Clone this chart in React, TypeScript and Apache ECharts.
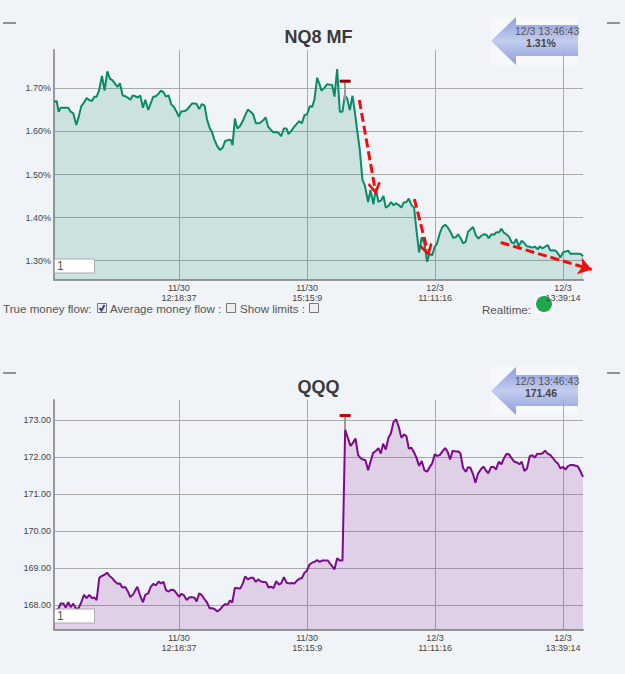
import React, { useEffect, useRef } from "react";
import * as echarts from "echarts";

const FONT = '"Liberation Sans", Arial, sans-serif';

const xTickValues = [375, 760, 1144, 1528];
const xTickLabels = ["11/30\n12:18:37", "11/30\n15:15:9", "12/3\n11:11:16", "12/3\n13:39:14"];
const nqTicks = [1.3, 1.4, 1.5, 1.6, 1.7];
const qqqTicks = [168, 169, 170, 171, 172, 173];

const nqTime = [0,8,14,20,28,35,43,50,58,67,74,82,90,98,106,114,121,128,135,144,152,160,168,176,184,191,198,206,214,222,230,236,244,252,259,267,274,283,290,298,306,314,321,329,336,344,352,360,368,375,382,390,398,406,414,422,428,436,444,452,460,468,474,482,490,498,506,514,522,530,536,543,550,558,566,574,582,590,598,606,614,622,628,635,643,650,658,666,674,682,690,698,704,713,721,728,736,744,752,760,768,775,782,790,798,803,812,820,828,835,842,850,858,866,873,880,888,896,903,910,918,926,933,943,950,959,966,974,982,989,996,1004,1012,1019,1027,1035,1043,1050,1058,1065,1073,1081,1088,1096,1104,1112,1120,1127,1135,1143,1150,1158,1166,1174,1182,1190,1198,1206,1213,1220,1228,1236,1243,1250,1258,1266,1274,1282,1290,1298,1305,1313,1321,1328,1335,1343,1350,1358,1366,1374,1381,1388,1395,1404,1412,1420,1428,1436,1444,1452,1458,1466,1474,1482,1490,1498,1506,1514,1520,1528,1536,1543,1550,1558,1566,1574,1582,1588];
const nqValues = [1.669,1.671,1.646,1.655,1.655,1.655,1.655,1.646,1.642,1.615,1.634,1.659,1.667,1.678,1.673,1.671,1.681,1.681,1.695,1.729,1.695,1.74,1.723,1.719,1.71,1.704,1.712,1.684,1.682,1.678,1.674,1.684,1.682,1.679,1.684,1.655,1.674,1.65,1.665,1.681,1.682,1.688,1.695,1.691,1.681,1.684,1.663,1.657,1.646,1.634,1.647,1.647,1.65,1.657,1.665,1.665,1.664,1.652,1.664,1.66,1.626,1.607,1.599,1.58,1.566,1.557,1.562,1.578,1.58,1.581,1.568,1.63,1.607,1.612,1.623,1.638,1.651,1.646,1.64,1.619,1.619,1.622,1.626,1.633,1.611,1.605,1.598,1.599,1.597,1.589,1.607,1.607,1.594,1.602,1.611,1.617,1.624,1.619,1.638,1.64,1.659,1.657,1.675,1.725,1.708,1.695,1.702,1.71,1.709,1.708,1.681,1.745,1.646,1.646,1.684,1.677,1.65,1.683,1.646,1.603,1.557,1.487,1.475,1.436,1.464,1.431,1.467,1.436,1.44,1.45,1.423,1.427,1.436,1.429,1.433,1.429,1.423,1.435,1.436,1.444,1.429,1.423,1.371,1.319,1.354,1.34,1.297,1.316,1.312,1.332,1.34,1.363,1.378,1.383,1.377,1.367,1.353,1.354,1.361,1.353,1.34,1.344,1.367,1.372,1.378,1.359,1.351,1.357,1.361,1.36,1.352,1.361,1.36,1.366,1.365,1.374,1.365,1.361,1.355,1.342,1.34,1.35,1.333,1.346,1.34,1.333,1.332,1.33,1.332,1.326,1.333,1.328,1.332,1.336,1.323,1.324,1.323,1.315,1.307,1.319,1.321,1.323,1.316,1.316,1.316,1.316,1.315,1.31];

const qqqTime = [0,8,14,20,28,35,43,50,58,66,74,82,90,98,106,114,121,128,136,143,151,159,166,175,183,191,198,205,214,222,229,238,250,259,267,274,283,290,298,306,314,321,329,336,344,352,360,368,375,383,390,398,406,414,422,428,436,444,452,459,467,475,482,490,498,506,514,522,528,535,543,551,559,567,574,582,590,598,606,613,621,629,637,644,651,659,667,675,682,690,698,706,714,722,730,737,744,752,759,767,775,783,790,798,806,814,822,830,842,850,858,866,874,882,890,898,905,913,921,928,935,943,950,958,966,974,981,988,996,1004,1011,1019,1027,1035,1043,1051,1058,1065,1073,1081,1088,1096,1104,1112,1120,1128,1135,1143,1150,1158,1166,1174,1182,1189,1197,1205,1213,1220,1228,1236,1243,1250,1258,1265,1273,1281,1289,1296,1304,1312,1320,1327,1335,1343,1351,1358,1366,1374,1382,1390,1397,1404,1412,1420,1428,1436,1443,1451,1459,1467,1474,1482,1490,1498,1506,1513,1520,1528,1536,1543,1550,1558,1566,1573,1581,1588];
const qqqValues = [167.82,167.87,167.91,168.04,168.04,167.93,168.07,167.94,168.03,167.9,167.91,168.07,168.27,168.18,168.27,168.18,168.2,168.13,168.73,168.78,168.81,168.87,168.79,168.72,168.63,168.57,168.58,168.47,168.48,168.36,168.21,168.29,168.49,168.24,168.07,168.27,168.31,168.48,168.57,168.53,168.63,168.58,168.62,168.4,168.36,168.41,168.4,168.31,168.22,168.3,168.26,168.13,168.2,168.21,168.19,168.09,168.31,168.26,168.15,168.07,167.91,167.91,167.89,167.82,167.87,167.96,168.02,168.01,168.12,168.06,168.46,168.45,168.44,168.58,168.77,168.69,168.73,168.73,168.62,168.69,168.63,168.62,168.61,168.47,168.49,168.45,168.64,168.55,168.58,168.75,168.6,168.58,168.59,168.58,168.66,168.71,168.72,168.87,168.92,169.09,169.14,169.17,169.21,169.16,169.2,169.2,169.2,169.1,168.96,169.26,169.2,169.2,172.74,172.52,172.3,172.39,172.5,172.05,171.96,171.93,171.91,171.64,171.87,172.11,172.16,172.24,172.09,172.36,172.2,172.52,172.63,172.94,173.02,172.81,172.52,172.61,172.56,172.23,172.25,172.12,171.98,171.76,171.89,171.64,171.6,171.73,171.82,172.07,172.03,172.05,172.15,172.24,172.13,171.93,172.17,172.15,172.15,172.1,171.7,171.6,171.72,171.71,171.53,171.3,171.55,171.66,171.74,171.64,171.56,171.73,171.73,171.66,171.87,171.8,171.97,172.08,172.07,171.96,171.87,171.85,171.8,171.87,171.62,171.69,172.02,172.05,171.98,172.09,172.08,172.1,172.17,172.09,172.05,171.97,171.87,171.82,171.69,171.73,171.66,171.75,171.78,171.78,171.76,171.74,171.6,171.46];

const nqRange = [1.2547, 1.7895];
const qqqRange = [167.32, 173.54];
// hand-drawn trend arrows on the NQ8 chart, in time / percent units; the last runs past the plot edge
const nqTrendArrows = [
  [[916, 1.673], [963, 1.467]],
  [[1081, 1.443], [1120, 1.324]],
  [[1340, 1.342], [1613, 1.279]],
];
const overlayMaxTime = 1639;

const zip = (a: number[], b: number[]) => a.map((t, i) => [t, b[i]]);
const CHEVRON = "path://M50 0 L100 85 L86 100 L50 42 L14 100 L0 85 Z";

function xAxis(gridIndex: number) {
  return {
    type: "value", gridIndex, min: 0, max: 1588, position: "bottom",
    axisLine: { show: true, onZero: false, lineStyle: { color: "#999", width: 2 } },
    axisTick: { show: false, customValues: xTickValues },
    splitLine: { show: true, lineStyle: { color: "#aaa", width: 1 } },
    axisLabel: {
      customValues: xTickValues, margin: 3, fontSize: 9, lineHeight: 10, color: "#444", fontFamily: FONT,
      formatter: (v: number) => xTickLabels[xTickValues.indexOf(v)] ?? "",
      hideOverlap: false, showMinLabel: true, showMaxLabel: true,
    },
  };
}
function yAxis(gridIndex: number, range: number[], ticks: number[], fmt: (v: number) => string) {
  return {
    type: "value", gridIndex, min: range[0], max: range[1], scale: true,
    axisLine: { show: true, lineStyle: { color: "#999", width: 2 } },
    axisTick: { show: false, customValues: ticks },
    splitLine: { show: true, lineStyle: { color: "#aaa", width: 1 } },
    axisLabel: { customValues: ticks, margin: 3, fontSize: 9, color: "#444", fontFamily: FONT, padding: [5, 0, 0, 0], formatter: fmt },
  };
}
const stem = (from: number[], to: number[]) => [
  { coord: from, symbol: "none" },
  { coord: to, symbol: "none" },
];
const stemLine = { silent: true, precision: 4, label: { show: false }, lineStyle: { color: "#999", width: 2, type: "solid" } };

function badge(top: number, value: string) {
  const shaft = {
    type: "linear", x: 0, y: 0, x2: 0, y2: 1,
    colorStops: [{ offset: 0, color: "#8d9dda" }, { offset: 0.5, color: "#c3ccef" }, { offset: 1, color: "#8d9dda" }],
  };
  return [
    { type: "rect", z: -1, shape: { x: 491, y: top, width: 87, height: 48 }, style: { fill: "#f7f8fc" } },
    { type: "polygon", z: -1, shape: { points: [[491, top + 24], [516, top], [516, top + 8], [578, top + 8], [578, top + 39], [516, top + 39], [516, top + 48]] }, style: { fill: shaft } },
    { type: "text", z: 10, x: 515, y: top + 8, style: { text: "12/3 13:46:43", font: `10.5px ${FONT}`, fill: "#555" } },
    { type: "text", z: 10, x: 541, y: top + 20, style: { text: value, font: `bold 10.5px ${FONT}`, fill: "#444", align: "center" } },
  ];
}
function inputBox(top: number) {
  return [
    { type: "rect", z: 10, shape: { x: 54.5, y: top + 0.5, width: 40, height: 14 }, style: { fill: "#fff", stroke: "#aaa", lineWidth: 1 } },
    { type: "text", z: 11, x: 57, y: top + 1, style: { text: "1", font: `12px ${FONT}`, fill: "#555" } },
  ];
}
function dash(x: number, y: number) {
  return { type: "line", shape: { x1: x, y1: y, x2: x + 13, y2: y }, style: { stroke: "#333", lineWidth: 1 } };
}
function checkbox(x: number, checked: boolean) {
  const out: any[] = [{ type: "rect", shape: { x: x + 0.5, y: 303.5, width: 9, height: 9 }, style: { fill: "#eee", stroke: "#777", lineWidth: 1 } }];
  if (checked) out.push({ type: "polyline", shape: { points: [[x + 2.5, 308], [x + 4.5, 310.5], [x + 7.5, 305]] }, style: { stroke: "#34408c", lineWidth: 2, fill: "none" } });
  return out;
}
function legendText(x: number, text: string, y = 302) {
  return { type: "text", x, y, style: { text, font: `11.6px ${FONT}`, fill: "#555" } };
}

export default function App() {
  const ref = useRef<HTMLDivElement>(null);
  useEffect(() => {
    const chart = echarts.init(ref.current!, null, { renderer: "svg" });
    chart.setOption({
      animation: false,
      backgroundColor: "#f0f4f8",
      title: [
        { text: "NQ8 MF", left: 313.5, top: 23, textAlign: "center", textStyle: { fontFamily: FONT, fontSize: 18, fontWeight: "bold", color: "#3a3a3a" } },
        { text: "QQQ", left: 313.5, top: 373, textAlign: "center", textStyle: { fontFamily: FONT, fontSize: 18, fontWeight: "bold", color: "#3a3a3a" } },
      ],
      grid: [
        { left: 54, top: 50, width: 529, height: 230 },
        { left: 54, top: 400, width: 529, height: 230 },
        { left: 54, top: 50, width: overlayMaxTime / 3, height: 230 },
      ],
      xAxis: [xAxis(0), xAxis(1), { type: "value", gridIndex: 2, min: 0, max: overlayMaxTime, show: false, splitLine: { show: false } }],
      yAxis: [
        yAxis(0, nqRange, nqTicks, (v) => v.toFixed(2) + "%"),
        yAxis(1, qqqRange, qqqTicks, (v) => v.toFixed(2)),
        { type: "value", gridIndex: 2, min: nqRange[0], max: nqRange[1], scale: true, show: false, splitLine: { show: false } },
      ],
      series: [
        {
          type: "line", xAxisIndex: 0, yAxisIndex: 0, data: zip(nqTime, nqValues), showSymbol: false,
          lineStyle: { color: "#0b8a68", width: 2 }, itemStyle: { color: "#0b8a68" },
          areaStyle: { color: "#0b8a68", opacity: 0.16, origin: "start" }, clip: false,
          markPoint: { symbol: "rect", symbolSize: [11, 3], silent: true, label: { show: false }, itemStyle: { color: "#990000" }, data: [{ coord: [874, 1.717] }] },
          markLine: { ...stemLine, data: [stem([874, 1.717], [874, 1.673])] },
        },
        {
          type: "line", xAxisIndex: 1, yAxisIndex: 1, data: zip(qqqTime, qqqValues), showSymbol: false,
          lineStyle: { color: "#7d0a8c", width: 2 }, itemStyle: { color: "#7d0a8c" },
          areaStyle: { color: "#7d0a8c", opacity: 0.15, origin: "start" }, clip: false,
          markPoint: { symbol: "rect", symbolSize: [11, 3], silent: true, label: { show: false }, itemStyle: { color: "#c00000" }, data: [{ coord: [874, 173.12] }] },
          markLine: { ...stemLine, data: [stem([874, 173.12], [874, 172.74])] },
        },
        {
          type: "line", xAxisIndex: 2, yAxisIndex: 2, data: [], showSymbol: false, z: 5,
          markLine: {
            silent: true, precision: 4, label: { show: false }, symbolSize: 13,
            lineStyle: { color: "#f20d0d", width: 3, type: [9, 4] },
            data: nqTrendArrows.map(([a, b], i) => [
              { coord: a, symbol: "none" },
              { coord: b, symbol: i === 2 ? "arrow" : CHEVRON },
            ]),
          },
        },
      ],
      graphic: [
        dash(3, 23), dash(607, 23), dash(3, 373), dash(607, 373),
        ...badge(17, "1.31%"), ...badge(367, "171.46"),
        ...inputBox(258.5), ...inputBox(608.5),
        legendText(3, "True money flow:"),
        ...checkbox(97, true),
        legendText(110, "Average money flow :"),
        ...checkbox(226, false),
        legendText(240, "Show limits :"),
        ...checkbox(309, false),
        legendText(482, "Realtime:", 303),
        { type: "rect", shape: { x: 535, y: 295, width: 18, height: 18 }, style: { fill: "#fff" } },
        { type: "circle", shape: { cx: 544, cy: 304, r: 8 }, style: { fill: "#1ea84a" } },
      ],
    });
    return () => chart.dispose();
  }, []);
  return <div ref={ref} style={{ position: "fixed", left: 0, top: 0, width: 625, height: 674 }} />;
}
